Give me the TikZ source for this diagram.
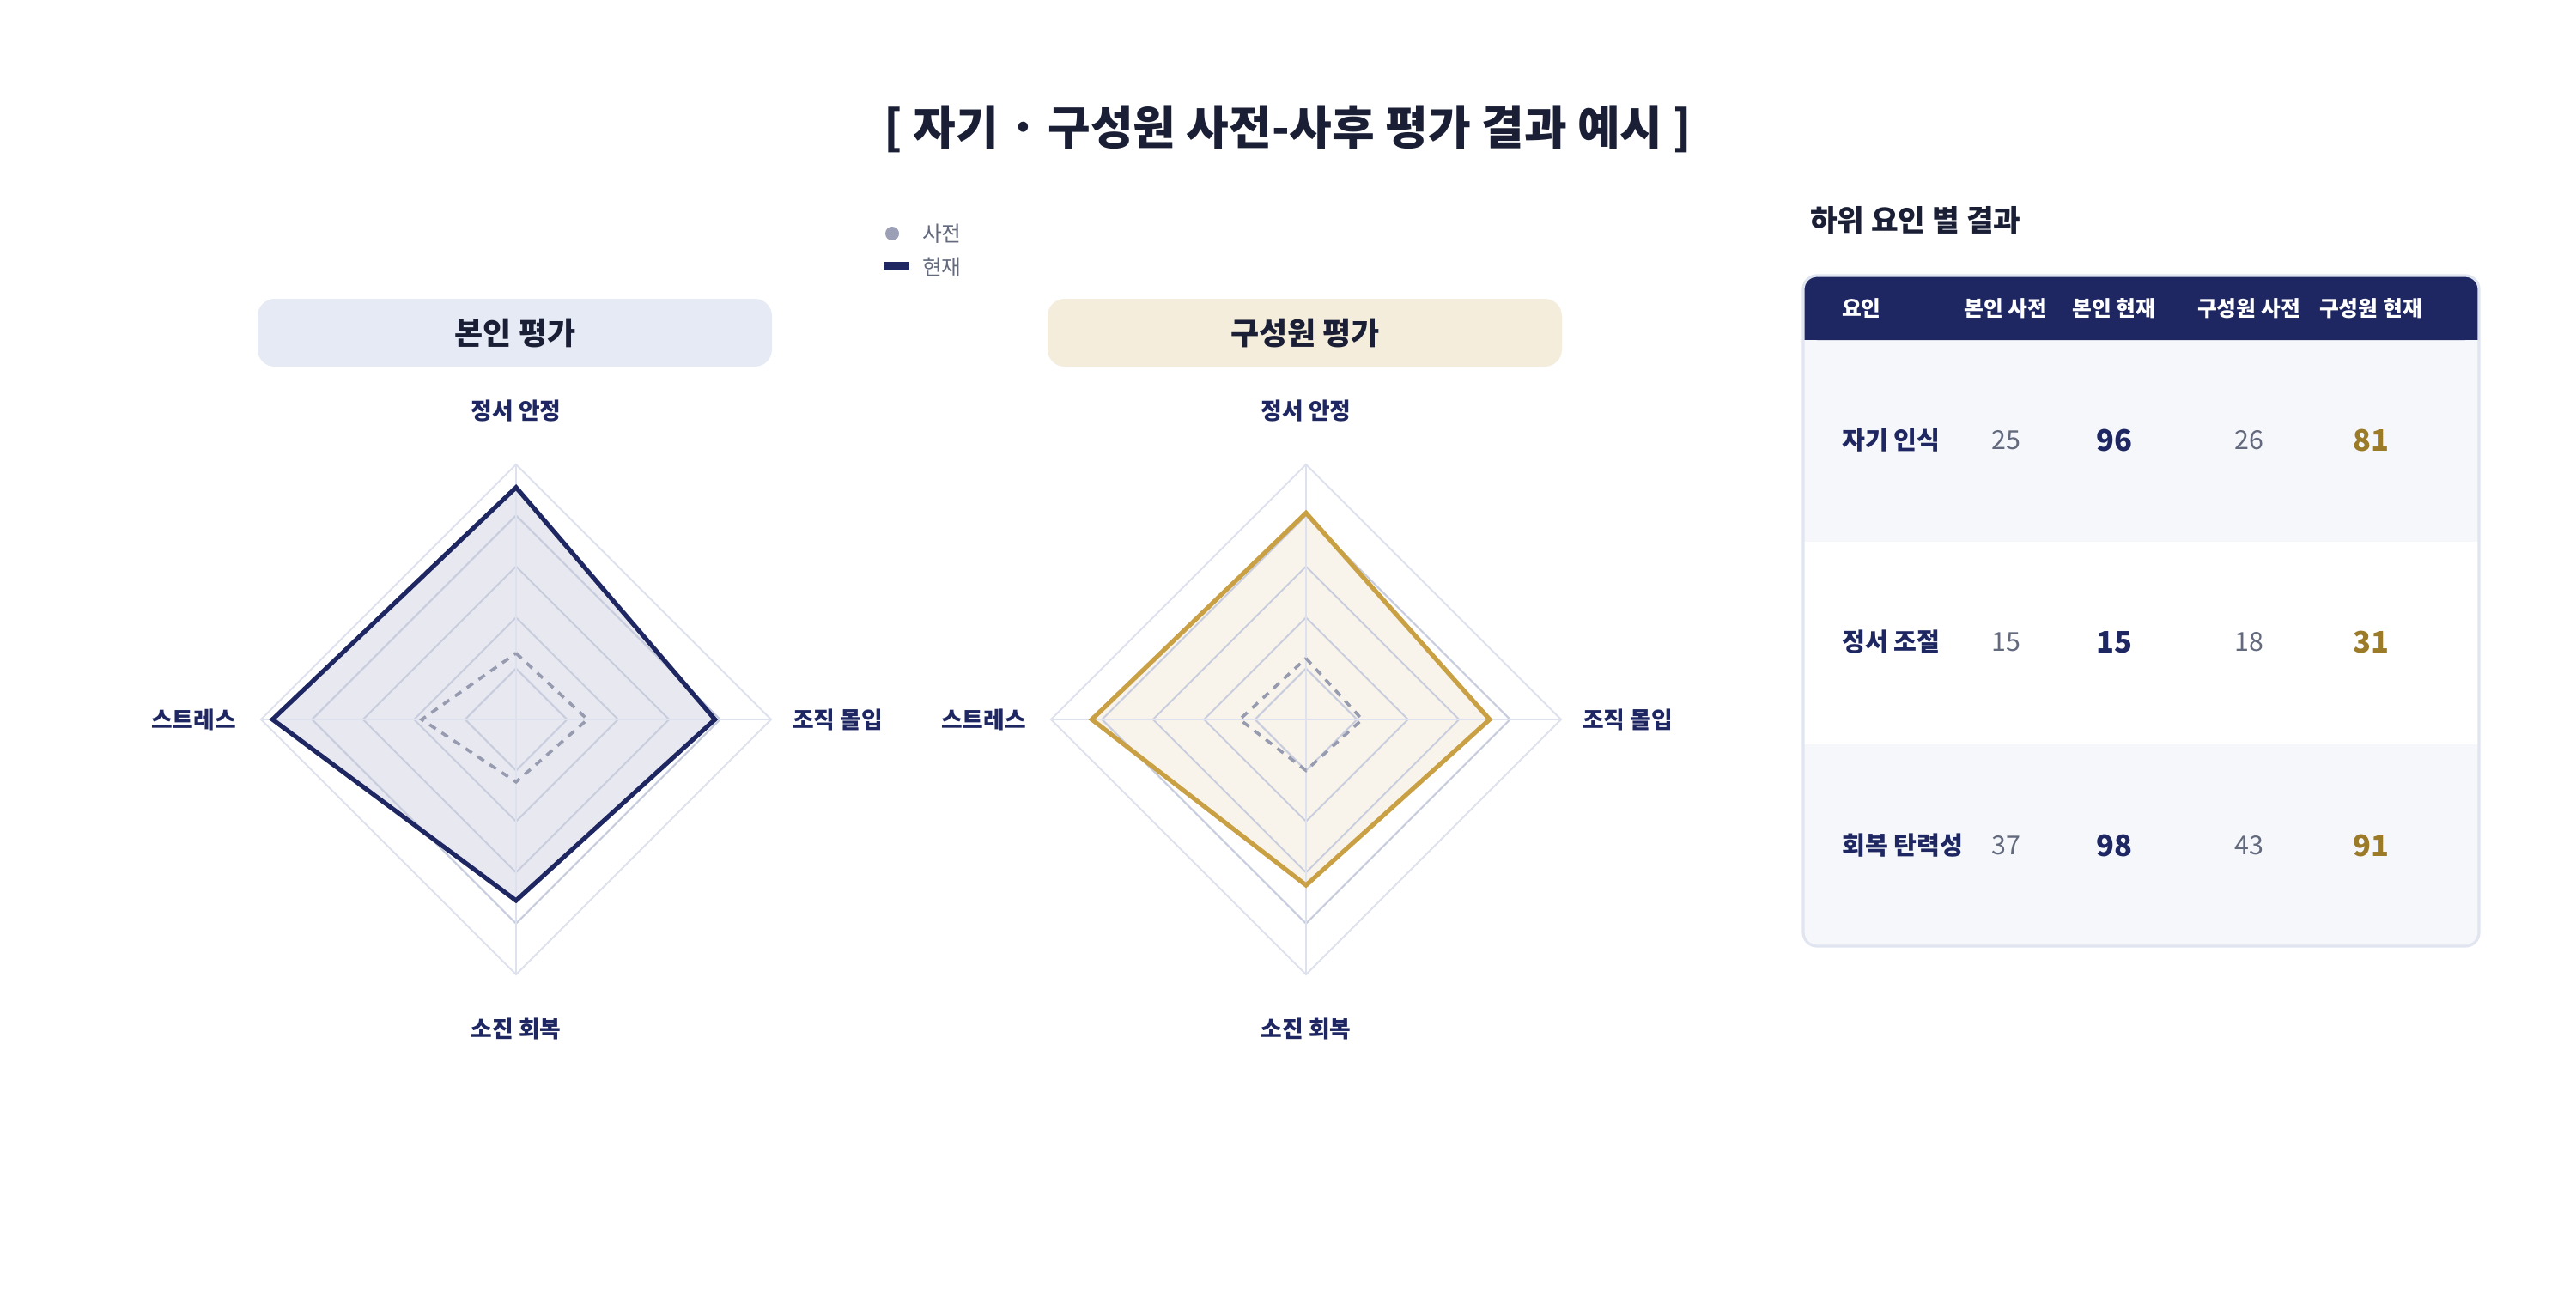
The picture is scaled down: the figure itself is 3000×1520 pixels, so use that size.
\documentclass[tikz,border=0pt]{standalone}
\usepackage{fontspec}
\setmainfont{Noto Sans CJK KR}
\definecolor{navyc}{RGB}{30,39,97}
\definecolor{goldc}{RGB}{201,160,67}
\definecolor{darkt}{RGB}{26,31,54}
\definecolor{grayt}{RGB}{100,106,125}
\definecolor{dotc}{RGB}{155,160,182}
\definecolor{ringc}{RGB}{200,205,222}
\definecolor{oringc}{RGB}{222,226,238}
\definecolor{prec}{RGB}{150,155,175}
\definecolor{numgold}{RGB}{155,122,40}
\definecolor{pnl}{RGB}{230,234,245}
\definecolor{pnr}{RGB}{245,237,220}
\definecolor{fl}{RGB}{232,232,240}
\definecolor{fr}{RGB}{249,244,235}
\definecolor{rowc}{RGB}{245,247,251}
\definecolor{tbord}{RGB}{225,229,240}
\begin{document}
\begin{tikzpicture}[x=0.25pt,y=-0.25pt,
  lbl/.style={font=\fontsize{6.7}{8}\selectfont\bfseries,text=navyc},
  ring/.style={draw=ringc,line width=0.5pt},
  oring/.style={draw=oringc,line width=0.5pt},
  pre/.style={draw=prec,line width=0.9pt,dash pattern=on 2.2pt off 2pt},
  hd/.style={font=\fontsize{6.2}{7}\selectfont\bfseries,text=white},
  rl/.style={font=\fontsize{7.3}{8}\selectfont\bfseries,text=navyc,anchor=west},
  nv/.style={font=\fontsize{7.6}{8}\selectfont,text=grayt},
  nb/.style={font=\fontsize{8.6}{9}\selectfont\bfseries,text=navyc},
  ng/.style={font=\fontsize{8.6}{9}\selectfont\bfseries,text=numgold}]
\useasboundingbox (0,0) rectangle (3000,1520);
\fill[white] (0,0) rectangle (3000,1520);
\node[font=\fontsize{13.5}{16}\selectfont\bfseries,text=darkt] (title) at (1500,150) {[ 자기 · 구성원 사전-사후 평가 결과 예시 ]};
% legend
\fill[dotc] (1039,272) circle (8);
\node[anchor=west,font=\fontsize{6.2}{7}\selectfont,text=grayt] (lg1) at (1060,272) {사전};
\fill[navyc] (1029,305) rectangle (1059,315);
\node[anchor=west,font=\fontsize{6.2}{7}\selectfont,text=grayt] (lg2) at (1060,311) {현재};
% panels
\fill[pnl,rounded corners=5pt] (300,348) rectangle (899,427);
\node[font=\fontsize{9}{10}\selectfont\bfseries,text=darkt] (p1) at (600,388) {본인 평가};
\fill[pnr,rounded corners=5pt] (1220,348) rectangle (1819,427);
\node[font=\fontsize{9}{10}\selectfont\bfseries,text=darkt] (p2) at (1520,388) {구성원 평가};
% radars
\foreach \cx/\ca/\cb/\cc/\cd/\pa/\pb/\pc/\pd/\col/\fc/\nm in
 {601/0.91/0.78/0.71/0.955/0.26/0.28/0.245/0.37/navyc/fl/L,
  1521/0.81/0.72/0.65/0.84/0.24/0.22/0.2/0.26/goldc/fr/R}{
  \begin{scope}[shift={(\cx,838)}]
  \fill[\fc] (0,-297*\ca) -- (297*\cb,0) -- (0,297*\cc) -- (-297*\cd,0) -- cycle;
  \foreach \r in {59.4,118.8,178.2,237.6}
    \draw[ring] (0,-\r) -- (\r,0) -- (0,\r) -- (-\r,0) -- cycle;
  \draw[oring] (0,-297) -- (297,0) -- (0,297) -- (-297,0) -- cycle;
  \draw[oring] (0,-297) -- (0,297) (-297,0) -- (297,0);
  \draw[pre] (0,-297*\pa) -- (297*\pb,0) -- (0,297*\pc) -- (-297*\pd,0) -- cycle;
  \draw[\col,line width=1.3pt,line join=miter] (0,-297*\ca) -- (297*\cb,0) -- (0,297*\cc) -- (-297*\cd,0) -- cycle;
  \node[lbl] (t\nm) at (0,-360) {정서 안정};
  \node[lbl] (b\nm) at (0,360) {소진 회복};
  \node[lbl,anchor=east] (l\nm) at (-312,0) {스트레스};
  \node[lbl,anchor=west] (r\nm) at (308,0) {조직 몰입};
  \end{scope}}
% table
\node[anchor=west,font=\fontsize{8.6}{10}\selectfont\bfseries,text=darkt] (tt) at (2094,257) {하위 요인 별 결과};
\begin{scope}
\clip[rounded corners=4pt] (2100,321) rectangle (2887,1102);
\fill[rowc] (2100,321) rectangle (2887,1102);
\fill[white] (2100,631) rectangle (2887,867);
\fill[navyc,rounded corners=4pt] (2100,321) rectangle (2887,396);
\fill[navyc] (2100,350) rectangle (2887,396);
\end{scope}
\draw[tbord,line width=0.8pt,rounded corners=4pt] (2100,321) rectangle (2887,1102);
\node[hd,anchor=west] (h0) at (2131,359) {요인};
\node[hd] (h1) at (2336,359) {본인 사전};
\node[hd] (h2) at (2462,359) {본인 현재};
\node[hd] (h3) at (2619,359) {구성원 사전};
\node[hd] (h4) at (2761,359) {구성원 현재};
\foreach \y/\n/\a/\b/\c/\d/\k in {513/자기 인식/25/96/26/81/1, 748/정서 조절/15/15/18/31/2, 985/회복 탄력성/37/98/43/91/3}{
  \node[rl] (r\k) at (2131,\y) {\n};
  \node[nv] (a\k) at (2336,\y) {\a};
  \node[nb] (b\k) at (2462,\y) {\b};
  \node[nv] (c\k) at (2619,\y) {\c};
  \node[ng] (d\k) at (2761,\y) {\d};
}
\end{tikzpicture}
\end{document}
